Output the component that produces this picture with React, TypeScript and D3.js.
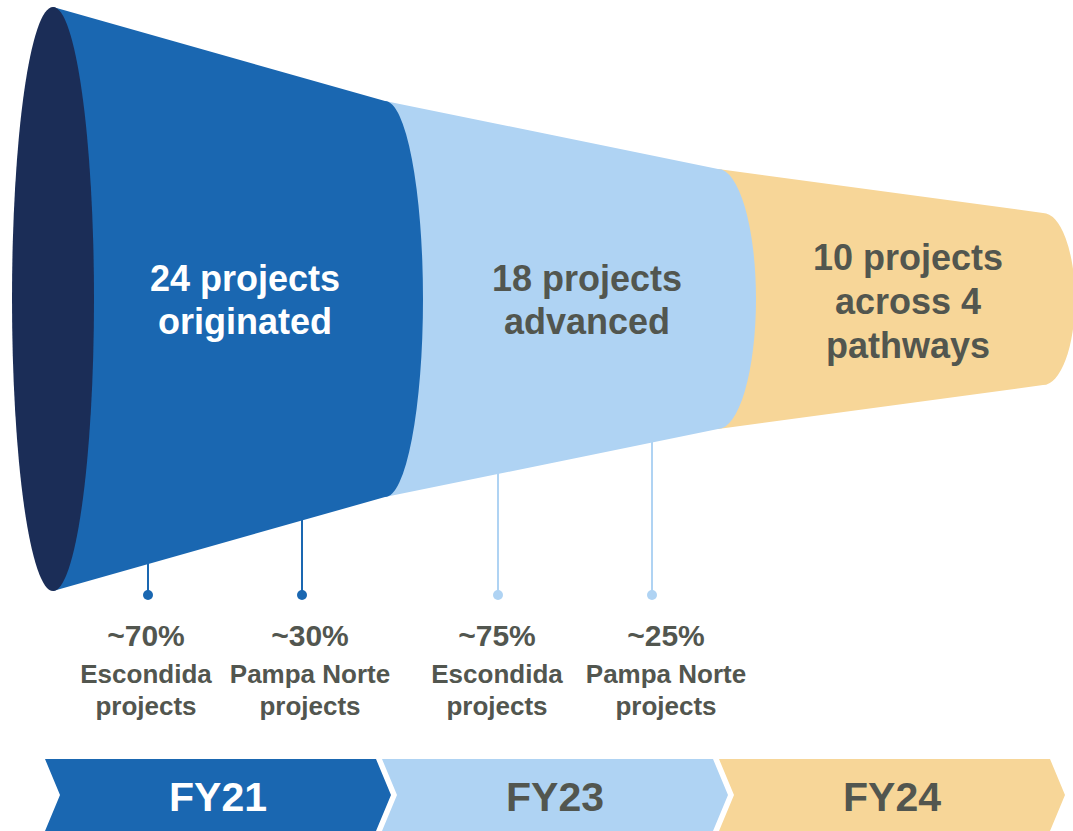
import React from "react";
import * as d3 from "d3";

// ---- data ----
const stageLines: string[][] = [
  ["24 projects", "originated"],
  ["18 projects", "advanced"],
  ["10 projects", "across 4", "pathways"],
];
const stageYears: string[] = ["FY21", "FY23", "FY24"];
const splitPercents: string[] = ["~70%", "~30%", "~75%", "~25%"];
const splitNames: string[][] = [
  ["Escondida", "projects"],
  ["Pampa Norte", "projects"],
  ["Escondida", "projects"],
  ["Pampa Norte", "projects"],
];
const splitStage: number[] = [0, 0, 1, 1];

// ---- layout ----
const W = 1073;
const H = 831;
const CY = 299;
const boundaryX = [53, 385, 718, 1043];
const halfH = [292, 198, 130, 86];
const capRx = [41, 38, 38, 32];
const stageFill = ["#1a67b1", "#afd3f3", "#f7d698"];
const textFill = ["#ffffff", "#52564f", "#52564f"];
const navy = "#1b2d57";
const gray = "#52564f";
const pinX = [148, 302, 498, 652];
const labelX = [146, 310, 497, 666];
const pinColor = ["#1a67b1", "#afd3f3"];
const FONT = "'Liberation Sans', Arial, Helvetica, sans-serif";

const xAt = d3.scaleLinear().domain([0, 1, 2, 3]).range(boundaryX);
const hAt = d3.scaleLinear().domain([0, 1, 2, 3]).range(halfH);
// bottom edge of the funnel as a function of x (piecewise linear)
const bottomAt = d3.scaleLinear().domain(boundaryX).range(halfH.map((h) => CY + h));

function segmentPath(i: number): string {
  const x0 = xAt(i);
  const x1 = xAt(i + 1);
  const h0 = hAt(i);
  const h1 = hAt(i + 1);
  const rx = capRx[i + 1];
  return (
    `M${x0},${CY - h0}L${x1},${CY - h1}` +
    `A${rx},${h1} 0 0 1 ${x1},${CY + h1}` +
    `L${x0},${CY + h0}Z`
  );
}

const chevL = 45;
const chevPitch = 337;
const chevW = 331;
const chevDepth = 15;
const chevTop = 759;
const chevBot = 831;
const chevX = d3.scaleLinear().domain([0, 1]).range([chevL, chevL + chevPitch]);

function chevronPath(i: number): string {
  const l = chevX(i);
  const r = l + chevW;
  const mid = (chevTop + chevBot) / 2;
  return `M${l},${chevTop}L${r},${chevTop}L${r + chevDepth},${mid}L${r},${chevBot}L${l},${chevBot}L${l + chevDepth},${mid}Z`;
}

const stageTextX = [245, 587, 908];
const stageTextY0 = [291, 291, 270];
const stageLineGap = [43, 43, 44];

export default function App() {
  const order = [2, 1, 0];
  return (
    <svg width={W} height={H} style={{ position: "absolute", left: 0, top: 0 }} fontFamily={FONT}>
      <rect width={W} height={H} fill="#ffffff" />
      {/* funnel segments, right to left so bulges overlap */}
      {order.map((i) => (
        <path key={"seg" + i} d={segmentPath(i)} fill={stageFill[i]} />
      ))}
      {/* mouth ellipse */}
      <ellipse cx={xAt(0)} cy={CY} rx={capRx[0]} ry={hAt(0)} fill={navy} />

      {/* stage labels */}
      {stageLines.map((lines, i) => (
        <text
          key={"st" + i}
          x={stageTextX[i]}
          y={stageTextY0[i]}
          textAnchor="middle"
          fontWeight="bold"
          fontSize={36}
          fill={textFill[i]}
        >
          {lines.map((l, j) => (
            <tspan key={j} x={stageTextX[i]} dy={j === 0 ? 0 : stageLineGap[i]}>
              {l}
            </tspan>
          ))}
        </text>
      ))}

      {/* pins */}
      {pinX.map((x, k) => (
        <g key={"pin" + k}>
          <line
            x1={x}
            x2={x}
            y1={bottomAt(x) - 2}
            y2={595}
            stroke={pinColor[splitStage[k]]}
            strokeWidth={2}
          />
          <circle cx={x} cy={595} r={5} fill={pinColor[splitStage[k]]} />
        </g>
      ))}

      {/* split labels */}
      {splitPercents.map((p, k) => (
        <g key={"lab" + k}>
          <text x={labelX[k]} y={646} textAnchor="middle" fontWeight="bold" fontSize={30} fill={gray}>
            {p}
          </text>
          {splitNames[k].map((n, j) => (
            <text
              key={j}
              x={labelX[k]}
              y={683 + j * 32}
              textAnchor="middle"
              fontWeight="bold"
              fontSize={26}
              fill={gray}
            >
              {n}
            </text>
          ))}
        </g>
      ))}

      {/* timeline chevrons */}
      {stageYears.map((y, i) => (
        <g key={"chev" + i}>
          <path d={chevronPath(i)} fill={stageFill[i]} />
          <text
            x={chevX(i) + (chevW + chevDepth) / 2}
            y={811}
            textAnchor="middle"
            fontWeight="bold"
            fontSize={41}
            fill={textFill[i]}
          >
            {y}
          </text>
        </g>
      ))}
    </svg>
  );
}
